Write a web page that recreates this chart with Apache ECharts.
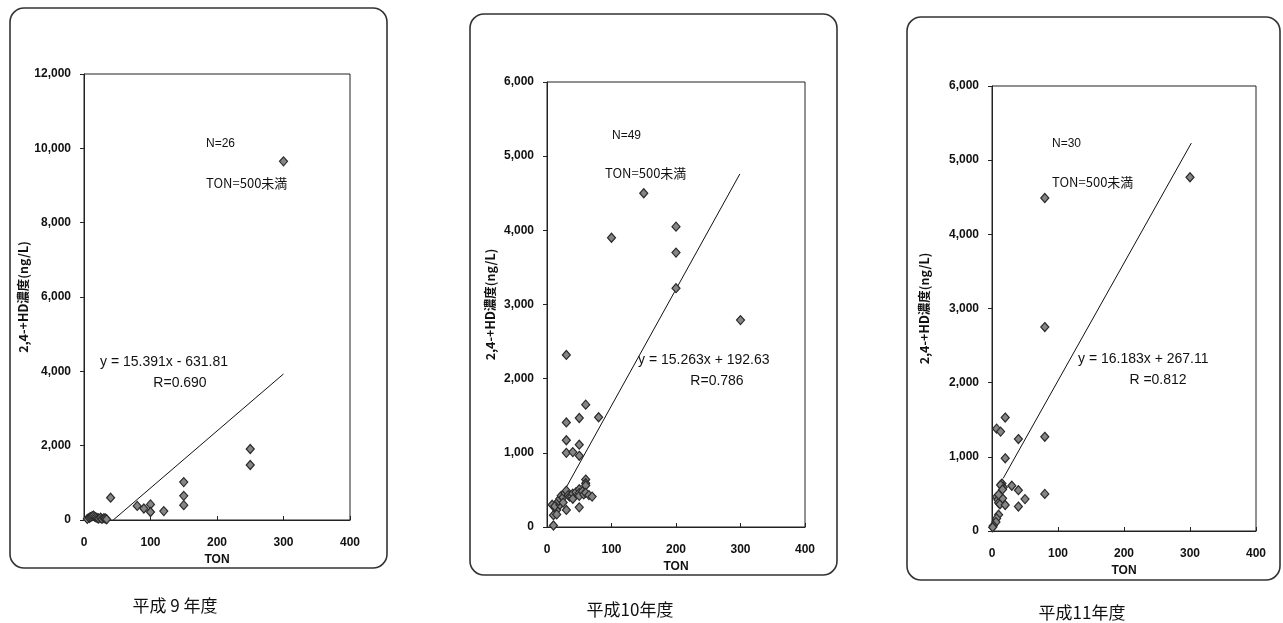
<!DOCTYPE html>
<html>
<head>
<meta charset="utf-8">
<title>2,4-D濃度とTON</title>
<script src="https://cdn.jsdelivr.net/npm/echarts@6/dist/echarts.min.js"></script>
<style>
  html, body { margin: 0; padding: 0; background: #fff; }
  #main { width: 1283px; height: 623px; }
</style>
</head>
<body>
<div id="main"></div>
<script>
//平成9年度 (N=26)
var h9Ton  = [5, 8, 10, 12, 14, 16, 18, 20, 22, 25, 27, 30, 32, 34, 40, 80, 90, 100, 100, 120, 150, 150, 150, 250, 250, 300];
var h9Conc = [30, 60, 80, 100, 120, 90, 70, 50, 40, 60, 30, 50, 40, 20, 600, 380, 310, 420, 215, 240, 1020, 650, 400, 1910, 1480, 9650];
var h9Fit  = [[44, 0], [300, 3930]];

//平成10年度 (N=49)
var h10Ton  = [150, 100, 200, 200, 200, 300, 30, 60, 30, 50, 80, 30, 50, 30, 40, 50,
  10, 10, 8, 15, 12, 20, 18, 20, 22, 25, 28, 30, 30, 33, 35, 38, 40, 40, 45, 50, 50, 50, 50, 55, 57, 60, 60, 60, 60, 65, 70, 15, 25];
var h10Conc = [4500, 3900, 4050, 3700, 3220, 2790, 2320, 1650, 1410, 1470, 1480, 1170, 1110, 1000, 1010, 960,
  20, 160, 300, 230, 280, 300, 350, 380, 420, 400, 460, 490, 230, 430, 410, 410, 450, 380, 470, 510, 460, 420, 265, 480, 440, 640, 590, 560, 460, 430, 410, 170, 330];
var h10Fit  = [[6, 160], [299, 4760]];

//平成11年度 (N=30)
var h11Ton  = [80, 300, 80, 20, 7, 13, 40, 80, 20, 15, 17, 13, 16, 30, 40, 80, 50, 40, 7, 9, 10, 12, 20, 16, 10, 10, 7, 6, 2, 1];
var h11Conc = [4490, 4770, 2750, 1530, 1380, 1340, 1240, 1270, 980, 640, 590, 620, 560, 610, 550, 500, 430, 330, 460, 420, 380, 360, 350, 440, 490, 220, 170, 120, 70, 50];
var h11Fit  = [[17, 710], [302, 5230]];

//坐标轴
var xMax = 400, xStep = 100;
var yMaxList  = [12000, 6000, 6000];
var yStepList = [2000, 1000, 1000];

//文字
var panelTitles = ['平成 9 年度', '平成10年度', '平成11年度'];
var nLabels     = ['N=26', 'N=49', 'N=30'];
var tonLabel    = 'TON=500未満';
var eqLabels    = ['y = 15.391x - 631.81', 'y = 15.263x + 192.63', 'y = 16.183x + 267.11'];
var rLabels     = ['R=0.690', 'R=0.786', 'R =0.812'];
var xName = 'TON';
var yName = '2,4-+HD濃度(ng/L)';

var sets = [
  { ton: h9Ton, conc: h9Conc, fit: h9Fit },
  { ton: h10Ton, conc: h10Conc, fit: h10Fit },
  { ton: h11Ton, conc: h11Conc, fit: h11Fit }
];

// 布局 (像素)
var grids = [
  { left: 84, top: 74, width: 266, height: 446 },
  { left: 547, top: 82, width: 258, height: 445 },
  { left: 992, top: 86, width: 264, height: 445 }
];
var boxes = [
  { x: 10, y: 8, w: 377, h: 560 },
  { x: 470, y: 14, w: 367, h: 561 },
  { x: 907, y: 17, w: 373, h: 563 }
];
var textPos = [
  { n: [206, 144], ton: [206, 183], eq: [100, 362], r: [180, 383], title: [175, 606], yname: 23 },
  { n: [612, 136], ton: [605, 173], eq: [638, 360], r: [717, 381], title: [630, 610], yname: 490 },
  { n: [1052, 144], ton: [1052, 182], eq: [1078, 359], r: [1158, 380], title: [1082, 613], yname: 923 }
];

var sans = '"Liberation Sans", Arial, sans-serif';
var cjk = '"Noto Sans CJK JP", "Liberation Sans", sans-serif';

function fmt(v) {
  return String(v).replace(/\B(?=(\d{3})+(?!\d))/g, ',');
}

function textEl(x, y, str, font, align) {
  return {
    type: 'text',
    x: x,
    y: y,
    style: {
      text: str,
      font: font,
      fill: '#111',
      align: align,
      verticalAlign: 'middle',
      textAlign: align,
      textVerticalAlign: 'middle'
    }
  };
}

var gridOpt = [], xAxisOpt = [], yAxisOpt = [], seriesOpt = [], graphicOpt = [];

for (var i = 0; i < 3; i++) {
  var g = grids[i];
  gridOpt.push({
    left: g.left, top: g.top, width: g.width, height: g.height,
    show: true, borderColor: '#222', borderWidth: 1, backgroundColor: 'transparent'
  });
  xAxisOpt.push({
    gridIndex: i, type: 'value', min: 0, max: xMax, interval: xStep,
    name: xName, nameLocation: 'middle', nameGap: 34,
    nameTextStyle: { fontFamily: sans, fontSize: 12, fontWeight: 'bold', color: '#111' },
    axisLine: { show: true, onZero: false, lineStyle: { color: '#222', width: 1 } },
    axisTick: { show: true, inside: true, length: 4, lineStyle: { color: '#222' } },
    axisLabel: { margin: 17, fontFamily: sans, fontSize: 12, fontWeight: 'bold', color: '#111' },
    splitLine: { show: false }
  });
  yAxisOpt.push({
    gridIndex: i, type: 'value', min: 0, max: yMaxList[i], interval: yStepList[i],
    name: yName, nameLocation: 'middle', nameGap: g.left - textPos[i].yname - 7,
    nameTextStyle: { fontFamily: cjk, fontSize: 12.5, fontWeight: 'bold', color: '#111' },
    axisLine: { show: true, onZero: false, lineStyle: { color: '#222', width: 1 } },
    axisTick: { show: true, inside: false, length: 4, lineStyle: { color: '#222' } },
    axisLabel: {
      margin: 13, fontFamily: sans, fontSize: 12, fontWeight: 'bold', color: '#111',
      formatter: fmt
    },
    splitLine: { show: false }
  });

  var pts = [];
  for (var k = 0; k < sets[i].ton.length; k++) {
    pts.push([sets[i].ton[k], sets[i].conc[k]]);
  }
  seriesOpt.push({
    type: 'scatter', xAxisIndex: i, yAxisIndex: i,
    data: pts, symbol: 'diamond', symbolSize: [8, 9],
    itemStyle: { color: '#858585', borderColor: '#2a2a2a', borderWidth: 1.2, opacity: 1 },
    z: 3
  });
  seriesOpt.push({
    type: 'line', xAxisIndex: i, yAxisIndex: i,
    data: sets[i].fit, showSymbol: false, symbol: 'none',
    lineStyle: { color: '#111', width: 1 }, z: 2
  });

  //外框
  var b = boxes[i];
  graphicOpt.push({
    type: 'rect',
    shape: { x: b.x, y: b.y, width: b.w, height: b.h, r: 14 },
    style: { fill: 'none', stroke: '#333', lineWidth: 1.6 }
  });

  var t = textPos[i];
  graphicOpt.push(textEl(t.n[0], t.n[1], nLabels[i], '12px ' + sans, 'left'));
  graphicOpt.push(textEl(t.ton[0], t.ton[1], tonLabel, '13px ' + cjk, 'left'));
  graphicOpt.push(textEl(t.eq[0], t.eq[1], eqLabels[i], '14px ' + sans, 'left'));
  graphicOpt.push(textEl(t.r[0], t.r[1], rLabels[i], '14px ' + sans, 'center'));
  graphicOpt.push(textEl(t.title[0], t.title[1], panelTitles[i], '17px ' + cjk, 'center'));
}

var myChart = echarts.init(document.getElementById('main'));
myChart.setOption({
  animation: false,
  backgroundColor: '#fff',
  grid: gridOpt,
  xAxis: xAxisOpt,
  yAxis: yAxisOpt,
  series: seriesOpt,
  graphic: { elements: graphicOpt }
});
</script>
</body>
</html>
